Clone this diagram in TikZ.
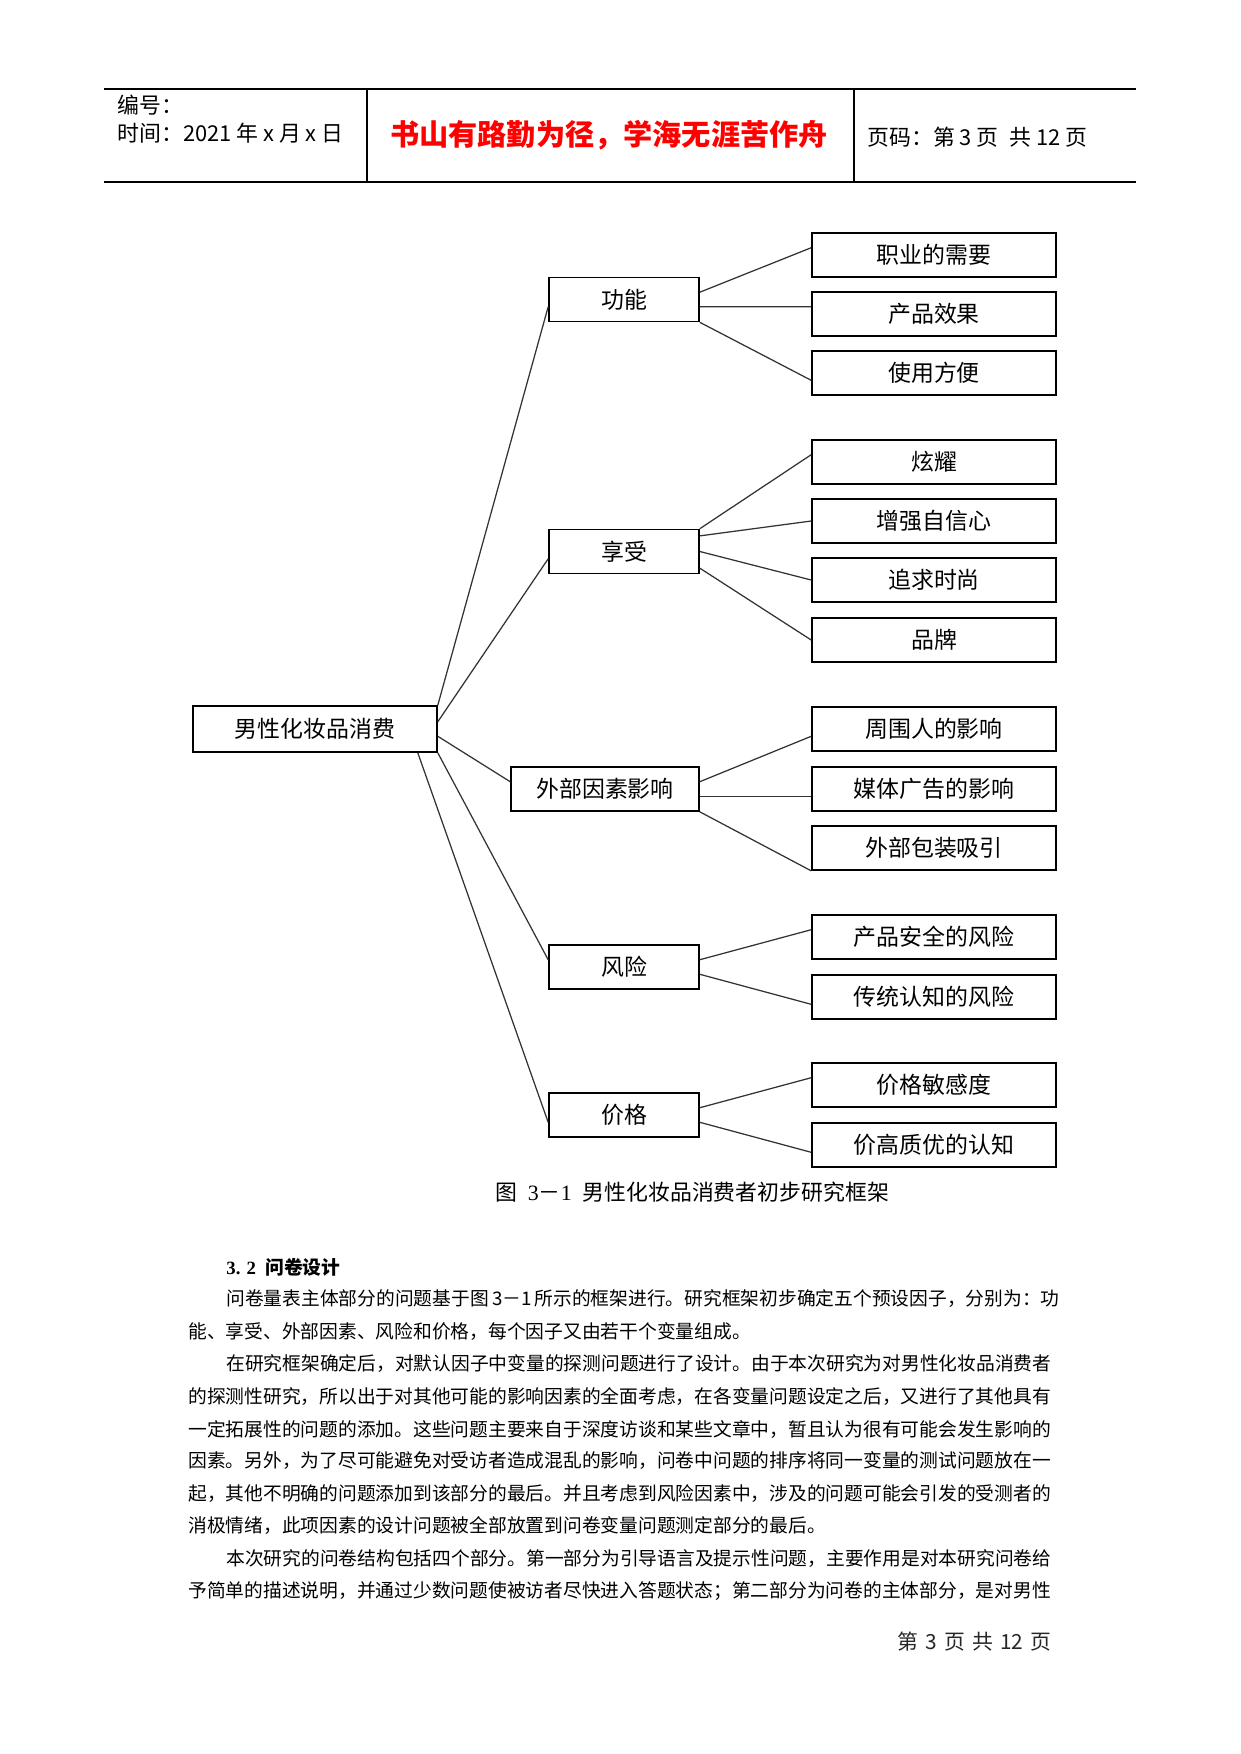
\documentclass[tikz,border=0pt]{standalone}
\usepackage{fontspec}
\setmainfont{Noto Sans CJK SC}
\newfontfamily\numfont{Liberation Serif}
\usetikzlibrary{positioning}

\begin{document}
\begin{tikzpicture}[x=0.48pt, y=-0.48pt,
  rootbox/.style={draw, line width=0.8pt, inner sep=0pt, minimum width=117.1pt, minimum height=22.1pt, font=\fontsize{11pt}{13pt}\selectfont},
  factorbox/.style={rootbox, minimum width=72pt, minimum height=21.1pt},
  varbox/.style={rootbox, minimum height=21.1pt},
  link/.style={line width=0.6pt, draw=black!80},
  bodyline/.style={anchor=west, inner sep=0pt, font=\fontsize{9pt}{11pt}\selectfont}]
\useasboundingbox (0,0) rectangle (1241,1754);
% header
\draw[line width=0.6pt] (104,89) -- (1136,89);
\draw[line width=0.6pt] (104,182) -- (1136,182);
\draw[line width=0.6pt] (367,89) -- (367,182);
\draw[line width=0.6pt] (854,89) -- (854,182);
\node[anchor=west, inner sep=0pt, font=\fontsize{10.5pt}{12pt}\selectfont] (serial) at (117,105) {编号：};
\node[anchor=west, inner sep=0pt, font=\fontsize{10.5pt}{12pt}\selectfont] (date) at (117,133) {时间：2021 年 x 月 x 日};
\node[inner sep=0pt, text=red, font=\fontsize{14pt}{16pt}\selectfont\bfseries] (motto) at (609,135) {书山有路勤为径，学海无涯苦作舟};
\node[anchor=west, inner sep=0pt, font=\fontsize{10.5pt}{12pt}\selectfont] (pageno) at (867,137) {页码：第 3 页\enspace 共 12 页};

% tree
\node[rootbox] (male) at (315,729) {男性化妆品消费};

\node[factorbox] (func) at (624,299.5) {功能};
\node[factorbox] (enjoy) at (624,551.5) {享受};
\node[factorbox, minimum width=90.2pt] (ext) at (605,789) {外部因素影响};
\node[factorbox] (risk) at (624,967) {风险};
\node[factorbox] (price) at (624,1115) {价格};

\node[varbox] (job) at (934,255) {职业的需要};
\node[varbox] (effect) at (934,314) {产品效果};
\node[varbox] (easy) at (934,373) {使用方便};
\node[varbox] (show) at (934,462) {炫耀};
\node[varbox] (conf) at (934,521) {增强自信心};
\node[varbox] (fashion) at (934,580) {追求时尚};
\node[varbox] (brand) at (934,640) {品牌};
\node[varbox] (people) at (934,729) {周围人的影响};
\node[varbox] (media) at (934,789) {媒体广告的影响};
\node[varbox] (pack) at (934,848) {外部包装吸引};
\node[varbox] (safety) at (934,937) {产品安全的风险};
\node[varbox] (trad) at (934,997) {传统认知的风险};
\node[varbox] (sens) at (934,1085) {价格敏感度};
\node[varbox] (quality) at (934,1145) {价高质优的认知};

\draw[link] (male.north east) -- ([yshift=-3.5pt]func.west);
\draw[link] ([yshift=3.5pt]male.east) -- ([yshift=-3.5pt]enjoy.west);
\draw[link] ([yshift=-3.5pt]male.east) -- ([yshift=3.5pt]ext.west);
\draw[link] (male.south east) -- ([yshift=3.5pt]risk.west);
\draw[link] ([xshift=-9.6pt]male.south east) -- ([yshift=-3.5pt]price.west);

\draw[link] ([yshift=3.5pt]func.east) -- ([yshift=3.5pt]job.west);
\draw[link] ([yshift=-3.5pt]func.east) -- ([yshift=3.5pt]effect.west);
\draw[link] (func.south east) -- ([yshift=-3.5pt]easy.west);

\draw[link] (enjoy.north east) -- ([yshift=3.5pt]show.west);
\draw[link] ([yshift=7.5pt]enjoy.east) -- (conf.west);
\draw[link] (enjoy.east) -- (fashion.west);
\draw[link] ([yshift=-8pt]enjoy.east) -- (brand.west);

\draw[link] ([yshift=3.5pt]ext.east) -- ([yshift=-3.5pt]people.west);
\draw[link] ([yshift=-3.5pt]ext.east) -- ([yshift=-3.5pt]media.west);
\draw[link] (ext.south east) -- (pack.south west);

\draw[link] ([yshift=3.5pt]risk.east) -- ([yshift=3.5pt]safety.west);
\draw[link] ([yshift=-3.5pt]risk.east) -- ([yshift=-3.5pt]trad.west);

\draw[link] ([yshift=3.5pt]price.east) -- ([yshift=3.5pt]sens.west);
\draw[link] ([yshift=-3.5pt]price.east) -- ([yshift=-3.5pt]quality.west);

\node[inner sep=0pt, font=\fontsize{10.5pt}{12pt}\selectfont] (caption) at (692,1192) {图\enspace{\numfont 3}－{\numfont 1}\enspace 男性化妆品消费者初步研究框架};

% body text
\node[bodyline, font=\fontsize{9pt}{11pt}\selectfont\bfseries] (sec) at (226,1267) {{\numfont 3. 2}\enspace 问卷设计};
\node[bodyline] (l1) at (226,1299) {问卷量表主体部分的问题基于图\,3－1\,所示的框架进行。研究框架初步确定五个预设因子，分别为：功};
\node[bodyline] (l2) at (188,1332) {能、享受、外部因素、风险和价格，每个因子又由若干个变量组成。};
\node[bodyline] (l3) at (226,1364) {在研究框架确定后，对默认因子中变量的探测问题进行了设计。由于本次研究为对男性化妆品消费者};
\node[bodyline] (l4) at (188,1397) {的探测性研究，所以出于对其他可能的影响因素的全面考虑，在各变量问题设定之后，又进行了其他具有};
\node[bodyline] (l5) at (188,1429) {一定拓展性的问题的添加。这些问题主要来自于深度访谈和某些文章中，暂且认为很有可能会发生影响的};
\node[bodyline] (l6) at (188,1461) {因素。另外，为了尽可能避免对受访者造成混乱的影响，问卷中问题的排序将同一变量的测试问题放在一};
\node[bodyline] (l7) at (188,1494) {起，其他不明确的问题添加到该部分的最后。并且考虑到风险因素中，涉及的问题可能会引发的受测者的};
\node[bodyline] (l8) at (188,1526) {消极情绪，此项因素的设计问题被全部放置到问卷变量问题测定部分的最后。};
\node[bodyline] (l9) at (226,1559) {本次研究的问卷结构包括四个部分。第一部分为引导语言及提示性问题，主要作用是对本研究问卷给};
\node[bodyline] (l10) at (188,1591) {予简单的描述说明，并通过少数问题使被访者尽快进入答题状态；第二部分为问卷的主体部分，是对男性};

% footer
\node[anchor=east, inner sep=0pt, text=black!85, font=\fontsize{10pt}{12pt}\selectfont] (footer) at (1052,1642) {第\hspace{0.35em}3\hspace{0.35em}页\hspace{0.35em}共\hspace{0.35em}12\hspace{0.35em}页};
\end{tikzpicture}
\end{document}
